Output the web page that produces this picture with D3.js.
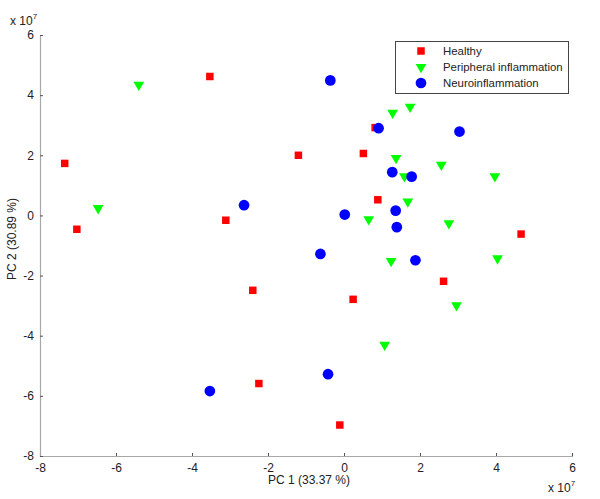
<!DOCTYPE html>
<html>
<head>
<meta charset="utf-8">
<script src="https://cdn.jsdelivr.net/npm/d3@7"></script>
<style>
  body { margin: 0; background: #fff; }
  text { font-family: "Liberation Sans", Arial, sans-serif; }
</style>
</head>
<body>
<svg width="600" height="499"></svg>
<script>
	// values in units of 1e7
	var healthyX = [-7.35, -7.03, -3.53, -3.11, -1.2, 0.51, 0.82, 0.89, 4.66, -2.40, -2.24, 2.62, 0.24, -0.11];
	var healthyY = [1.73, -0.46, 4.62, -0.16, 2.0, 2.06, 2.92, 0.52, -0.62, -2.49, -5.59, -2.19, -2.79, -6.97];

	var periphX = [-5.40, -6.47, 1.28, 1.74, 1.37, 2.56, 1.59, 3.97, 1.68, 0.65, 2.76, 1.24, 4.04, 2.96, 1.07];
	var periphY = [4.34, 0.24, 3.41, 3.61, 1.91, 1.68, 1.30, 1.30, 0.46, -0.13, -0.26, -1.52, -1.43, -2.99, -4.30];

	var neuroX = [-2.63, -0.36, 0.91, 3.04, 1.27, 1.78, 0.02, 1.36, 1.39, -0.62, 1.88, -0.42, -3.53];
	var neuroY = [0.34, 4.49, 2.90, 2.79, 1.44, 1.29, 0.03, 0.16, -0.39, -1.28, -1.49, -5.28, -5.84];

	var xTicks = [-8, -6, -4, -2, 0, 2, 4, 6];
	var yTicks = [-8, -6, -4, -2, 0, 2, 4, 6];
	var groups = ["Healthy", "Peripheral inflammation", "Neuroinflammation"];

	var svg = d3.select("svg");
	var x = d3.scaleLinear().domain([-8, 6]).range([40, 572]);
	var y = d3.scaleLinear().domain([-8, 6]).range([456, 35]);

	var axisColor = "#a8a8a8";

	// x axis
	var gx = svg.append("g")
		.attr("transform", "translate(0," + y(-8) + ")")
		.call(d3.axisBottom(x).tickValues(xTicks).tickSize(-3).tickPadding(7).tickFormat(d3.format("d")));
	// y axis
	var gy = svg.append("g")
		.attr("transform", "translate(" + x(-8) + ",0)")
		.call(d3.axisLeft(y).tickValues(yTicks).tickSize(-3).tickPadding(6).tickFormat(d3.format("d")));

	[gx, gy].forEach(function(g) {
		g.select(".domain").attr("stroke", axisColor).attr("stroke-width", 1.2);
		g.selectAll(".tick line").attr("stroke", "#555");
		g.selectAll(".tick text")
			.attr("fill", "#222")
			.style("font-size", "12px")
			.style("font-family", "Liberation Sans, Arial, sans-serif")
			.text(function(d) { return d < 0 ? "-" + Math.abs(d) : d; });
	});

	// axis labels
	svg.append("text")
		.attr("x", 309).attr("y", 484)
		.attr("text-anchor", "middle")
		.style("font-size", "12px").attr("fill", "#222")
		.text("PC 1 (33.37 %)");

	svg.append("text")
		.attr("transform", "translate(16,239) rotate(-90)")
		.attr("text-anchor", "middle")
		.style("font-size", "12px").attr("fill", "#222")
		.text("PC 2 (30.89 %)");

	// exponent labels
	function expLabel(px, py) {
		var t = svg.append("text")
			.attr("x", px).attr("y", py)
			.style("font-size", "12px").attr("fill", "#222");
		t.append("tspan").text("x 10");
		t.append("tspan").attr("dy", -6).style("font-size", "8px").text("7");
	}
	expLabel(10, 25);
	expLabel(548, 492);

	// markers
	var healthy = d3.zip(healthyX, healthyY);
	var periph = d3.zip(periphX, periphY);
	var neuro = d3.zip(neuroX, neuroY);

	var sq = d3.symbol().type(d3.symbolSquare).size(56);
	var tri = d3.symbol().type(d3.symbolTriangle).size(50);
	var circ = d3.symbol().type(d3.symbolCircle).size(90);

	svg.append("g").selectAll("path")
		.data(healthy).enter().append("path")
		.attr("d", sq)
		.attr("transform", function(d) { return "translate(" + x(d[0]) + "," + y(d[1]) + ")"; })
		.style("fill", "#ff0000");

	svg.append("g").selectAll("path")
		.data(periph).enter().append("path")
		.attr("d", tri)
		.attr("transform", function(d) { return "translate(" + x(d[0]) + "," + y(d[1]) + ") rotate(180)"; })
		.style("fill", "#00ff00");

	svg.append("g").selectAll("path")
		.data(neuro).enter().append("path")
		.attr("d", circ)
		.attr("transform", function(d) { return "translate(" + x(d[0]) + "," + y(d[1]) + ")"; })
		.style("fill", "#0000ff");

	// legend
	var legend = svg.append("g");
	legend.append("rect")
		.attr("x", 395.5).attr("y", 41.5)
		.attr("width", 173).attr("height", 52)
		.style("fill", "#fff")
		.style("stroke", "#444")
		.style("stroke-width", 1);

	var legendSyms = [sq, tri, circ];
	var legendCols = ["#ff0000", "#00ff00", "#0000ff"];
	var legendY = [51, 67, 83];
	groups.forEach(function(name, i) {
		legend.append("path")
			.attr("d", legendSyms[i])
			.attr("transform", "translate(421," + legendY[i] + ")" + (i == 1 ? " rotate(180)" : ""))
			.style("fill", legendCols[i]);
		legend.append("text")
			.attr("x", 443).attr("y", legendY[i] + 4)
			.style("font-size", "11.4px").attr("fill", "#222")
			.text(name);
	});
</script>
</body>
</html>
